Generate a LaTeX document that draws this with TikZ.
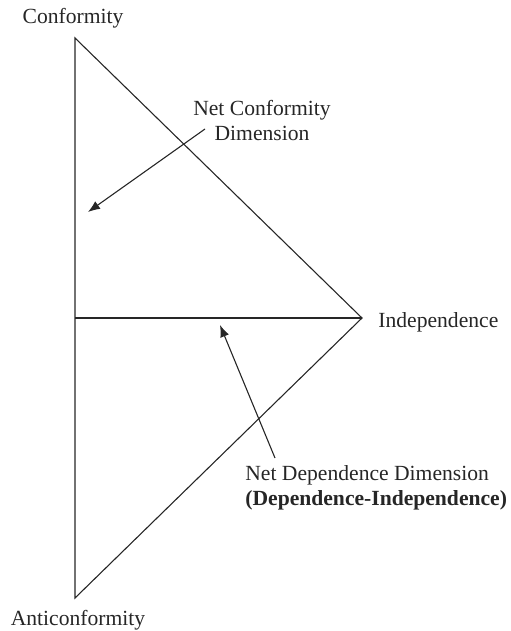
\documentclass[tikz,border=0pt]{standalone}
\usepackage{fontspec}
\setmainfont{Liberation Serif}
\usetikzlibrary{arrows.meta}
\begin{document}
\begin{tikzpicture}[x=0.5pt,y=-0.5pt,
  edge/.style={line width=0.55pt, black!85},
  pointer/.style={line width=0.55pt, black!85, -{Latex[length=6pt,width=4.6pt]}},
  lbl/.style={inner sep=0pt, font=\fontsize{10.8}{12.5}\selectfont, text=black!85}]
\useasboundingbox (0,0) rectangle (510,631);
\coordinate (top) at (75,38);
\coordinate (bot) at (75,598);
\coordinate (right) at (362,318);
\coordinate (mid) at (75,318);
\draw[edge] (top) -- (bot) -- (right) -- cycle;
\draw[edge] (mid) -- (right);
\node[lbl] (conf) at (73,18) {Conformity};
\node[lbl] (anti) at (78,620) {Anticonformity};
\node[lbl, anchor=west] (indep) at (378,322) {Independence};
\node[lbl, align=center] (netconf) at (262,121) {Net Conformity\\Dimension};
\node[lbl, align=left, anchor=west] (netdep) at (245,488) {Net Dependence Dimension\\\textbf{(Dependence-Independence)}};
\coordinate (a1s) at (205,129);
\coordinate (a1e) at (88,212);
\coordinate (a2s) at (275,458);
\coordinate (a2e) at (220,325);
\draw[pointer] (a1s) -- (a1e);
\draw[pointer] (a2s) -- (a2e);
\end{tikzpicture}
\end{document}
